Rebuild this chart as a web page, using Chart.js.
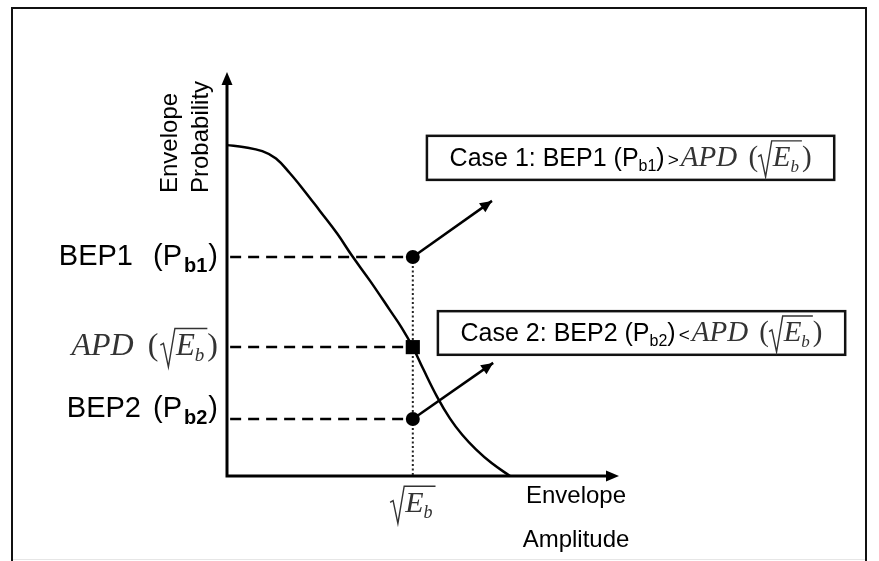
<!DOCTYPE html>
<html>
<head>
<meta charset="utf-8">
<script src="https://cdn.jsdelivr.net/npm/chart.js@4/dist/chart.umd.min.js"></script>
<style>
  html, body { margin: 0; padding: 0; background: #fff; }
  canvas { display: block; }
</style>
</head>
<body>
<canvas id="apd" width="879" height="561"></canvas>
<script>
// envelope probability curve (axis units 0..10)
const curveX = [0, 0.45, 0.90, 1.25, 1.60, 1.94, 2.37, 2.81, 3.19, 3.65, 4.16, 4.45, 4.74, 5.00, 5.36, 5.69, 6.00, 6.35, 6.75, 7.22];
const curveY = [8.19, 8.14, 8.04, 7.86, 7.50, 7.10, 6.56, 6.00, 5.45, 4.83, 4.10, 3.68, 3.19, 2.66, 1.96, 1.42, 1.02, 0.66, 0.32, 0];

// marked levels at sqrt(Eb)
const markerX = 4.74;
const levelKeys = ['BEP1', 'APD', 'BEP2'];
const levelValues = [5.42, 3.19, 1.41];
const levelStyles = ['circle', 'rect', 'circle'];

// arrows from BEP1 / BEP2 points towards the case boxes
const arrowFrom = [0, 2];
const arrowTipX = [6.76, 6.79];
const arrowTipY = [6.81, 2.80];

// case boxes (axis units)
const boxX0 = [5.10, 5.38];
const boxX1 = [15.49, 15.77];
const boxTop = [8.42, 4.08];
const boxBottom = [7.33, 3.00];

const SANS = '"Liberation Sans", Arial, sans-serif';
const SERIF = '"Liberation Serif", "Times New Roman", serif';

function sans(px, bold) { return (bold ? 'bold ' : '') + px + 'px ' + SANS; }
function serif(px, italic) { return (italic ? 'italic ' : '') + px + 'px ' + SERIF; }

// ---- little text-run helpers for the math-ish labels ----
function runWidth(ctx, r) {
  if (r.sqrt) {
    return r.size * 0.47 + r.inner.reduce((s, q) => s + runWidth(ctx, q), 0) + 3;
  }
  ctx.font = r.font;
  return ctx.measureText(r.t).width + (r.gap || 0);
}

function drawRun(ctx, r, x, y) {
  if (r.sqrt) {
    const s = r.size;
    const rad = s * 0.47;
    const w = runWidth(ctx, r);
    ctx.save();
    ctx.strokeStyle = r.color;
    ctx.lineWidth = 1.4;
    ctx.lineJoin = 'miter';
    ctx.beginPath();
    ctx.moveTo(x, y - 0.32 * s);
    ctx.lineTo(x + 0.1 * s, y - 0.38 * s);
    ctx.lineTo(x + 0.26 * s, y + 0.38 * s);
    ctx.lineTo(x + rad, y - 0.86 * s);
    ctx.lineTo(x + w, y - 0.86 * s);
    ctx.stroke();
    ctx.restore();
    let cx = x + rad + 1;
    r.inner.forEach((q) => {
      drawRun(ctx, q, cx, y);
      cx += runWidth(ctx, q);
    });
    return;
  }
  ctx.font = r.font;
  ctx.fillStyle = r.color || '#000';
  ctx.textAlign = 'left';
  ctx.textBaseline = 'alphabetic';
  ctx.fillText(r.t, x, y + (r.dy || 0));
}

function drawRuns(ctx, runs, x, y, align) {
  const total = runs.reduce((s, r) => s + runWidth(ctx, r), 0);
  let cx = align === 'right' ? x - total : align === 'center' ? x - total / 2 : x;
  runs.forEach((r) => {
    drawRun(ctx, r, cx, y);
    cx += runWidth(ctx, r);
  });
}

function sqrtEb(size, color) {
  return {
    sqrt: true,
    size: size,
    color: color,
    inner: [
      { t: 'E', font: serif(size, true), color: color },
      { t: 'b', font: serif(Math.round(size * 0.6), true), color: color, dy: size * 0.2, gap: 1 }
    ]
  };
}

const MATH = '#333';

function leftLabel(key) {
  if (key === 'APD') {
    return [
      { t: 'APD', font: serif(32, true), color: MATH, gap: 14 },
      { t: '(', font: serif(32), color: MATH, gap: 2 },
      sqrtEb(31, MATH),
      { t: ')', font: serif(32), color: MATH }
    ];
  }
  const n = key.slice(-1);
  return [
    { t: key, font: sans(29), gap: key === 'BEP1' ? 20 : 12 },
    { t: '(P', font: sans(29), gap: 2 },
    { t: 'b' + n, font: sans(20, true), dy: 7, gap: 1 },
    { t: ')', font: sans(29) }
  ];
}

function caseLabel(i) {
  const key = levelKeys[i === 0 ? 0 : 2];
  const n = key.slice(-1);
  return [
    { t: 'Case ' + (i + 1) + ': ' + key + ' (P', font: sans(25) },
    { t: 'b' + n, font: sans(16), dy: 5 },
    { t: ')', font: sans(25), gap: 3 },
    { t: i === 0 ? '>' : '<', font: sans(19), gap: 2 },
    { t: 'APD ', font: serif(29, true), color: MATH, gap: 4 },
    { t: '(', font: serif(29), color: MATH },
    sqrtEb(29, MATH),
    { t: ')', font: serif(29), color: MATH }
  ];
}

function arrowHead(ctx, x0, y0, x1, y1, len, half) {
  const a = Math.atan2(y1 - y0, x1 - x0);
  ctx.beginPath();
  ctx.moveTo(x1, y1);
  ctx.lineTo(x1 - len * Math.cos(a) + half * Math.sin(a), y1 - len * Math.sin(a) - half * Math.cos(a));
  ctx.lineTo(x1 - len * Math.cos(a) - half * Math.sin(a), y1 - len * Math.sin(a) + half * Math.cos(a));
  ctx.closePath();
  ctx.fill();
}

const decorations = {
  id: 'decorations',
  beforeDraw(chart) {
    const ctx = chart.ctx;
    ctx.save();
    ctx.fillStyle = '#fff';
    ctx.fillRect(0, 0, chart.width, chart.height);
    // outer frame (open at the bottom)
    ctx.strokeStyle = '#111';
    ctx.lineWidth = 2;
    ctx.beginPath();
    ctx.moveTo(12, chart.height);
    ctx.lineTo(12, 8);
    ctx.lineTo(866, 8);
    ctx.lineTo(866, chart.height);
    ctx.stroke();
    ctx.strokeStyle = '#e6e6e6';
    ctx.lineWidth = 1;
    ctx.beginPath();
    ctx.moveTo(13, chart.height - 1.5);
    ctx.lineTo(865, chart.height - 1.5);
    ctx.stroke();
    ctx.restore();
  },
  beforeDatasetsDraw(chart) {
    const ctx = chart.ctx;
    const xs = chart.scales.x;
    const ys = chart.scales.y;
    const x0 = xs.getPixelForValue(0);
    const y0 = ys.getPixelForValue(0);
    const xEnd = xs.getPixelForValue(10);
    const yEnd = ys.getPixelForValue(10);
    ctx.save();
    ctx.strokeStyle = '#000';
    ctx.fillStyle = '#000';
    ctx.lineWidth = 3;
    ctx.beginPath();
    ctx.moveTo(x0, yEnd + 8);
    ctx.lineTo(x0, y0);
    ctx.lineTo(xEnd - 8, y0);
    ctx.stroke();
    arrowHead(ctx, x0, y0, x0, yEnd, 13, 5.5);
    arrowHead(ctx, x0, y0, xEnd, y0, 13, 5.5);
    ctx.restore();
  },
  afterDraw(chart) {
    const ctx = chart.ctx;
    const xs = chart.scales.x;
    const ys = chart.scales.y;
    const axisX = xs.getPixelForValue(0);
    const axisY = ys.getPixelForValue(0);
    ctx.save();

    // arrowheads on the two case arrows
    ctx.fillStyle = '#000';
    arrowFrom.forEach((li, i) => {
      arrowHead(ctx,
        xs.getPixelForValue(markerX), ys.getPixelForValue(levelValues[li]),
        xs.getPixelForValue(arrowTipX[i]), ys.getPixelForValue(arrowTipY[i]), 12, 5.5);
    });

    // case boxes
    boxX0.forEach((bx, i) => {
      const l = xs.getPixelForValue(bx);
      const r = xs.getPixelForValue(boxX1[i]);
      const t = ys.getPixelForValue(boxTop[i]);
      const b = ys.getPixelForValue(boxBottom[i]);
      ctx.fillStyle = '#fff';
      ctx.fillRect(l, t, r - l, b - t);
      ctx.strokeStyle = '#111';
      ctx.lineWidth = 2.5;
      ctx.strokeRect(l, t, r - l, b - t);
      drawRuns(ctx, caseLabel(i), (l + r) / 2, (t + b) / 2 + 8, 'center');
    });

    // level labels left of the y axis
    const labelDy = [8, 8, -2];
    levelKeys.forEach((key, i) => {
      drawRuns(ctx, leftLabel(key), axisX - 9, ys.getPixelForValue(levelValues[i]) + labelDy[i], 'right');
    });

    // sqrt(Eb) tick label under the x axis
    drawRuns(ctx, [sqrtEb(30, MATH)], xs.getPixelForValue(markerX), axisY + 36, 'center');

    // axis titles
    ctx.fillStyle = '#000';
    ctx.font = sans(24);
    ctx.textAlign = 'center';
    ctx.textBaseline = 'alphabetic';
    ctx.fillText('Envelope', 576, axisY + 27);
    ctx.fillText('Amplitude', 576, axisY + 71);

    ctx.textAlign = 'left';
    ['Envelope', 'Probability'].forEach((t, i) => {
      ctx.save();
      ctx.translate(i === 0 ? 177 : 208, 193);
      ctx.rotate(-Math.PI / 2);
      ctx.fillText(t, 0, 0);
      ctx.restore();
    });
    ctx.restore();
  }
};

const line = (pts, extra) => Object.assign({
  data: pts,
  showLine: true,
  borderColor: '#000',
  backgroundColor: '#000',
  borderWidth: 2.5,
  pointRadius: 0,
  fill: false
}, extra);

const datasets = [
  // markers first so they sit on top
  {
    data: levelValues.map((v) => ({ x: markerX, y: v })),
    showLine: false,
    pointStyle: levelStyles,
    pointRadius: levelStyles.map((s) => (s === 'rect' ? 10 : 7)),
    backgroundColor: '#000',
    borderColor: '#000',
    borderWidth: 0
  },
  ...arrowFrom.map((li, i) => line([
    { x: markerX, y: levelValues[li] },
    { x: arrowTipX[i], y: arrowTipY[i] }
  ], { borderWidth: 2.5 })),
  line(curveX.map((x, i) => ({ x: x, y: curveY[i] })), {
    tension: 0.4,
    borderWidth: 2.5
  }),
  ...levelValues.map((v) => line([{ x: 0.08, y: v }, { x: markerX, y: v }], {
    borderDash: [11, 7],
    borderWidth: 2.5
  })),
  line([{ x: markerX, y: levelValues[0] }, { x: markerX, y: 0 }], {
    borderDash: [2, 2.5],
    borderWidth: 2,
    borderColor: '#222'
  })
];

new Chart(document.getElementById('apd').getContext('2d'), {
  type: 'scatter',
  data: { datasets: datasets },
  options: {
    responsive: false,
    animation: false,
    devicePixelRatio: 1,
    clip: false,
    layout: { padding: { left: 227, right: 260, top: 72, bottom: 85 } },
    scales: {
      x: { type: 'linear', min: 0, max: 10, display: false },
      y: { type: 'linear', min: 0, max: 10, display: false }
    },
    plugins: {
      legend: { display: false },
      tooltip: { enabled: false }
    },
    elements: { line: { borderCapStyle: 'butt' } }
  },
  plugins: [decorations]
});
</script>
</body>
</html>
